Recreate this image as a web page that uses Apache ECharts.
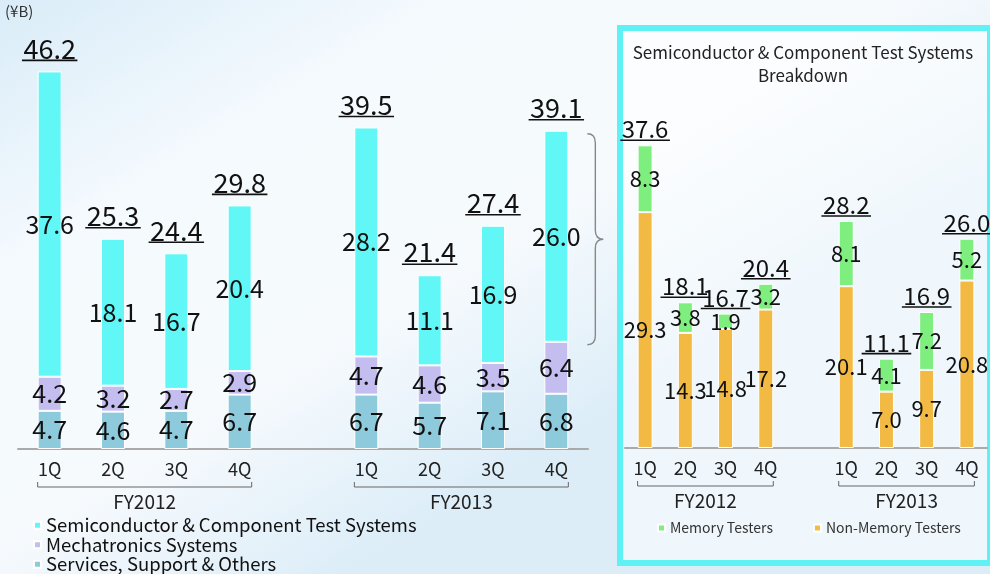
<!DOCTYPE html>
<html>
<head>
<meta charset="utf-8">
<script src="https://cdn.jsdelivr.net/npm/echarts@6/dist/echarts.min.js"></script>
<style>
html, body { margin: 0; padding: 0; }
#main { width: 990px; height: 574px; }
</style>
</head>
<body>
<div id="main"></div>
<script>
// categories: 4 quarters per fiscal year, one empty slot between the years
const quarters = ['1Q', '2Q', '3Q', '4Q', '', '1Q', '2Q', '3Q', '4Q'];
const yearGroups = [[0, 3, 'FY2012'], [5, 8, 'FY2013']];

// left panel, net sales by segment (¥B)
const services = [4.7, 4.6, 4.7, 6.7, '-', 6.7, 5.7, 7.1, 6.8];
const mechatronics = [4.2, 3.2, 2.7, 2.9, '-', 4.7, 4.6, 3.5, 6.4];
const semiTest = [37.6, 18.1, 16.7, 20.4, '-', 28.2, 11.1, 16.9, 26.0];
const totals = [46.2, 25.3, 24.4, 29.8, '-', 39.5, 21.4, 27.4, 39.1];

// right panel, test systems breakdown (¥B)
const nonMemory = [29.3, 14.3, 14.8, 17.2, '-', 20.1, 7.0, 9.7, 20.8];
const memory = [8.3, 3.8, 1.9, 3.2, '-', 8.1, 4.1, 7.2, 5.2];
const semiTotals = [37.6, 18.1, 16.7, 20.4, '-', 28.2, 11.1, 16.9, 26.0];

const FONT = '"Noto Sans CJK JP", "Noto Sans", sans-serif';
const C_SEMI = '#62F7F7';
const C_MECH = '#C4BEF0';
const C_SERV = '#8DCADC';
const C_MEM = '#7EEE7E';
const C_NONMEM = '#F2BA42';

const LEFT_BAR = 24;
const RIGHT_BAR = 15;

const measureCtx = document.createElement('canvas').getContext('2d');
function textWidth(t, size) {
    measureCtx.font = size + 'px ' + FONT;
    return measureCtx.measureText(t).width;
}

// stack tops (where the underlined total sits)
function stackTops(parts) {
    return quarters.map((q, i) => {
        if (parts[0][i] === '-') return null;
        let s = 0;
        parts.forEach(p => { s += p[i]; });
        return [i, s];
    }).filter(d => d);
}

function segLabel(size) {
    return {
        show: true,
        position: 'inside',
        color: '#111',
        fontSize: size,
        fontFamily: FONT,
        formatter: p => Number(p.value).toFixed(1)
    };
}

function barSeries(name, data, color, axis, width, size) {
    return {
        name: name,
        type: 'bar',
        stack: 'st' + axis,
        xAxisIndex: axis,
        yAxisIndex: axis,
        barWidth: width,
        data: data,
        itemStyle: { color: color, borderColor: '#fff', borderWidth: 1 },
        label: segLabel(size)
    };
}

// underlined total above each stacked bar
function totalSeries(axis, parts, labels, size, textGap, lineGap) {
    return {
        type: 'custom',
        xAxisIndex: axis,
        yAxisIndex: axis,
        silent: true,
        z: 5,
        data: stackTops(parts),
        renderItem: function (params, api) {
            const i = api.value(0);
            const p = api.coord([i, api.value(1)]);
            const t = Number(labels[i]).toFixed(1);
            const w = textWidth(t, size) + 3;
            return {
                type: 'group',
                children: [{
                    type: 'text',
                    x: p[0],
                    y: p[1] - textGap,
                    style: {
                        text: t,
                        fill: '#111',
                        fontSize: size,
                        fontFamily: FONT,
                        align: 'center',
                        verticalAlign: 'middle'
                    }
                }, {
                    type: 'line',
                    shape: { x1: p[0] - w / 2, y1: p[1] - lineGap, x2: p[0] + w / 2, y2: p[1] - lineGap },
                    style: { stroke: '#111', lineWidth: 1.6 }
                }]
            };
        }
    };
}

// bracket under the quarters with the fiscal year name
function yearSeries(axis, barW) {
    return {
        type: 'custom',
        xAxisIndex: axis,
        yAxisIndex: axis,
        silent: true,
        data: yearGroups.map(g => [g[0], g[1]]),
        renderItem: function (params, api) {
            const a = api.coord([api.value(0), 0]);
            const b = api.coord([api.value(1), 0]);
            const x1 = a[0] - barW / 2;
            const x2 = b[0] + barW / 2;
            const y = a[1] + 38;
            return {
                type: 'group',
                children: [{
                    type: 'polyline',
                    shape: { points: [[x1, y - 5], [x1, y], [x2, y], [x2, y - 5]] },
                    style: { stroke: '#666', lineWidth: 1, fill: null }
                }, {
                    type: 'text',
                    x: (x1 + x2) / 2,
                    y: y + 15,
                    style: {
                        text: yearGroups[params.dataIndex][2],
                        fill: '#222',
                        fontSize: 19,
                        fontFamily: FONT,
                        align: 'center',
                        verticalAlign: 'middle'
                    }
                }]
            };
        }
    };
}

// brace next to the last test-systems segment, pointing to the breakdown
const lastIdx = quarters.length - 1;
const braceData = [[lastIdx, services[lastIdx] + mechatronics[lastIdx], services[lastIdx] + mechatronics[lastIdx] + semiTest[lastIdx]]];

const braceSeries = {
    type: 'custom',
    xAxisIndex: 0,
    yAxisIndex: 0,
    silent: true,
    data: braceData,
    renderItem: function (params, api) {
        const lo = api.coord([api.value(0), api.value(1)]);
        const hi = api.coord([api.value(0), api.value(2)]);
        const x0 = lo[0] + LEFT_BAR / 2 + 19;
        const x1 = x0 + 8;
        const x2 = x0 + 16;
        const y0 = hi[1] + 3;
        const y1 = lo[1] + 3;
        const ym = (y0 + y1) / 2;
        const d = 'M' + x0 + ' ' + y0 +
            ' Q' + x1 + ' ' + y0 + ' ' + x1 + ' ' + (y0 + 9) +
            ' L' + x1 + ' ' + (ym - 9) +
            ' Q' + x1 + ' ' + ym + ' ' + x2 + ' ' + ym +
            ' Q' + x1 + ' ' + ym + ' ' + x1 + ' ' + (ym + 9) +
            ' L' + x1 + ' ' + (y1 - 9) +
            ' Q' + x1 + ' ' + y1 + ' ' + x0 + ' ' + y1;
        return {
            type: 'path',
            shape: { pathData: d },
            style: { stroke: '#888', lineWidth: 1.4, fill: null }
        };
    }
};

function catAxis(grid) {
    return {
        type: 'category',
        gridIndex: grid,
        data: quarters,
        axisTick: { show: false },
        axisLine: { lineStyle: { color: '#aaa', width: 2 } },
        axisLabel: { color: '#222', fontSize: 18, fontFamily: FONT, margin: 11 }
    };
}

function valAxis(grid, max) {
    return {
        type: 'value',
        gridIndex: grid,
        min: 0,
        max: max,
        show: false,
        splitLine: { show: false }
    };
}

const option = {
    animation: false,
    textStyle: { fontFamily: FONT },
    backgroundColor: new echarts.graphic.LinearGradient(0, 0, 0.35, 1, [
        { offset: 0, color: '#d9ecf8' },
        { offset: 0.35, color: '#f5fafe' },
        { offset: 0.7, color: '#f6fafd' },
        { offset: 1, color: '#dcedf8' }
    ]),
    graphic: [{
        type: 'rect',
        z: 0,
        shape: { x: 620, y: 28, width: 370, height: 535 },
        style: { fill: 'rgba(255,255,255,0.55)', stroke: '#5ff2f5', lineWidth: 6 }
    }, {
        type: 'text',
        x: 5,
        y: 4,
        style: { text: '(¥B)', fontSize: 15, fontFamily: FONT, fill: '#333' }
    }, {
        type: 'text',
        x: 803,
        y: 41,
        style: {
            text: 'Semiconductor & Component Test Systems\nBreakdown',
            fontSize: 17,
            lineHeight: 23,
            fill: '#222',
            fontFamily: FONT,
            align: 'center'
        }
    }],
    legend: [{
        orient: 'vertical',
        left: 33,
        top: 516,
        padding: 0,
        itemWidth: 7,
        itemHeight: 7,
        itemGap: 1,
        icon: 'rect',
        data: ['Semiconductor & Component Test Systems', 'Mechatronics Systems', 'Services, Support & Others'],
        textStyle: { fontSize: 18.5, color: '#111', fontFamily: FONT, lineHeight: 18 }
    }, {
        orient: 'horizontal',
        left: 657,
        top: 521,
        padding: 0,
        itemWidth: 7,
        itemHeight: 7,
        itemGap: 40,
        icon: 'rect',
        data: ['Memory Testers', 'Non-Memory Testers'],
        textStyle: { fontSize: 14, color: '#333', fontFamily: FONT }
    }],
    grid: [
        { left: 18, top: 43, width: 570, height: 406 },
        { left: 625, top: 126, width: 362, height: 322 }
    ],
    xAxis: [catAxis(0), catAxis(1)],
    yAxis: [valAxis(0, 50), valAxis(1, 40)],
    series: [
        barSeries('Services, Support & Others', services, C_SERV, 0, LEFT_BAR, 25),
        barSeries('Mechatronics Systems', mechatronics, C_MECH, 0, LEFT_BAR, 25),
        barSeries('Semiconductor & Component Test Systems', semiTest, C_SEMI, 0, LEFT_BAR, 25),
        totalSeries(0, [services, mechatronics, semiTest], totals, 27, 23, 11),
        yearSeries(0, LEFT_BAR),
        braceSeries,
        barSeries('Non-Memory Testers', nonMemory, C_NONMEM, 1, RIGHT_BAR, 22),
        barSeries('Memory Testers', memory, C_MEM, 1, RIGHT_BAR, 22),
        totalSeries(1, [nonMemory, memory], semiTotals, 24, 16, 5),
        yearSeries(1, RIGHT_BAR)
    ]
};

const chart = echarts.init(document.getElementById('main'));
chart.setOption(option);
window.addEventListener('resize', () => chart.resize());
</script>
</body>
</html>
